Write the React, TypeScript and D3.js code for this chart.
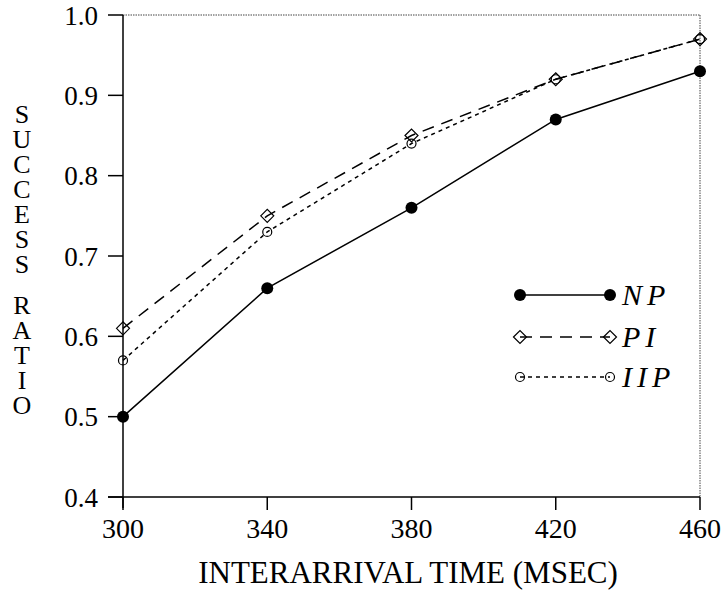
import React from "react";
import * as d3 from "d3";

const xTicks = [300, 340, 380, 420, 460];
const yTicks = [0.4, 0.5, 0.6, 0.7, 0.8, 0.9, 1.0];
const npValues = [0.5, 0.66, 0.76, 0.87, 0.93];
const piValues = [0.61, 0.75, 0.85, 0.92, 0.97];
const iipValues = [0.57, 0.73, 0.84, 0.92, 0.97];
const yLabelWords = ["SUCCESS", "RATIO"];
const xLabel = "INTERARRIVAL TIME (MSEC)";
const seriesNames = ["NP", "PI", "IIP"];

const W = 722;
const H = 597;
const left = 123;
const right = 700;
const top = 15;
const bottom = 497;
const serif = "'Liberation Serif', 'Times New Roman', serif";

export default function App() {
  const x = d3.scaleLinear().domain([300, 460]).range([left, right]);
  const y = d3.scaleLinear().domain([0.4, 1.0]).range([bottom, top]);
  const line = d3
    .line<number>()
    .x((_, i) => x(xTicks[i]))
    .y((d) => y(d));

  const series = [
    { name: seriesNames[0], values: npValues, dash: "none", marker: "dot" },
    { name: seriesNames[1], values: piValues, dash: "12,8", marker: "diamond" },
    { name: seriesNames[2], values: iipValues, dash: "4,4", marker: "circle" },
  ];

  const marker = (kind: string, cx: number, cy: number, key: string) => {
    if (kind === "dot")
      return <circle key={key} cx={cx} cy={cy} r={6} fill="#000" />;
    if (kind === "diamond") {
      const s = 6.5;
      return (
        <path
          key={key}
          d={`M${cx - s},${cy} L${cx},${cy - s} L${cx + s},${cy} L${cx},${cy + s} Z`}
          fill="none"
          stroke="#000"
          strokeWidth={1.2}
        />
      );
    }
    return <circle key={key} cx={cx} cy={cy} r={4.5} fill="none" stroke="#000" strokeWidth={1.2} />;
  };

  const wordTops = [100, 291];

  const legendY = [295, 337, 377];
  const legendX1 = 520;
  const legendX2 = 610;

  return (
    <svg
      width={W}
      height={H}
      style={{ position: "absolute", left: 0, top: 0, background: "#fff" }}
    >
      <rect x={0} y={0} width={W} height={H} fill="#fff" />
      {/* frame top/right */}
      <line x1={left} y1={top} x2={right} y2={top} stroke="#444" strokeWidth={1} strokeDasharray="1.5,1" />
      <line x1={right} y1={top} x2={right} y2={bottom} stroke="#444" strokeWidth={1} strokeDasharray="1.5,1" />
      {/* axes */}
      <line x1={left} y1={top} x2={left} y2={bottom + 11} stroke="#000" strokeWidth={1.5} />
      <line x1={left - 15} y1={bottom} x2={right} y2={bottom} stroke="#000" strokeWidth={1.5} />
      {yTicks.map((t) => (
        <g key={"y" + t}>
          <line x1={left - 15} x2={left} y1={y(t)} y2={y(t)} stroke="#000" strokeWidth={1.5} />
          <text
            x={98}
            y={y(t) + 9.5}
            textAnchor="end"
            fontFamily={serif}
            fontSize={27}
            fill="#000"
          >
            {t.toFixed(1)}
          </text>
        </g>
      ))}
      {xTicks.map((t) => (
        <g key={"x" + t}>
          <line x1={x(t)} x2={x(t)} y1={bottom} y2={bottom + 13} stroke="#000" strokeWidth={1.5} />
          <text x={x(t)} y={538} textAnchor="middle" fontFamily={serif} fontSize={28} fill="#000">
            {t}
          </text>
        </g>
      ))}
      {/* series */}
      {series.map((s) => (
        <g key={s.name}>
          <path
            d={line(s.values) || ""}
            fill="none"
            stroke="#000"
            strokeWidth={1.5}
            strokeDasharray={s.dash}
          />
          {s.values.map((v, i) => marker(s.marker, x(xTicks[i]), y(v), s.name + i))}
        </g>
      ))}
      {/* legend */}
      {series.map((s, i) => (
        <g key={"lg" + s.name}>
          <line
            x1={legendX1}
            x2={legendX2}
            y1={legendY[i]}
            y2={legendY[i]}
            stroke="#000"
            strokeWidth={1.5}
            strokeDasharray={s.dash}
          />
          {marker(s.marker, legendX1, legendY[i], "a" + i)}
          {marker(s.marker, legendX2, legendY[i], "b" + i)}
          <text
            x={622}
            y={legendY[i] + 10}
            fontFamily={serif}
            fontStyle="italic"
            fontSize={30}
            letterSpacing={5}
            fill="#000"
          >
            {s.name}
          </text>
        </g>
      ))}
      {/* y label, stacked letters */}
      {yLabelWords.map((w, i) => (
        <text
          key={"w" + i}
          x={22}
          y={wordTops[i]}
          fontFamily={serif}
          fontSize={26}
          fill="#000"
          letterSpacing={-4}
          style={{ writingMode: "vertical-rl", textOrientation: "upright" } as any}
        >
          {w}
        </text>
      ))}
      <text x={408} y={583} textAnchor="middle" fontFamily={serif} fontSize={31} fill="#000">
        {xLabel}
      </text>
    </svg>
  );
}
